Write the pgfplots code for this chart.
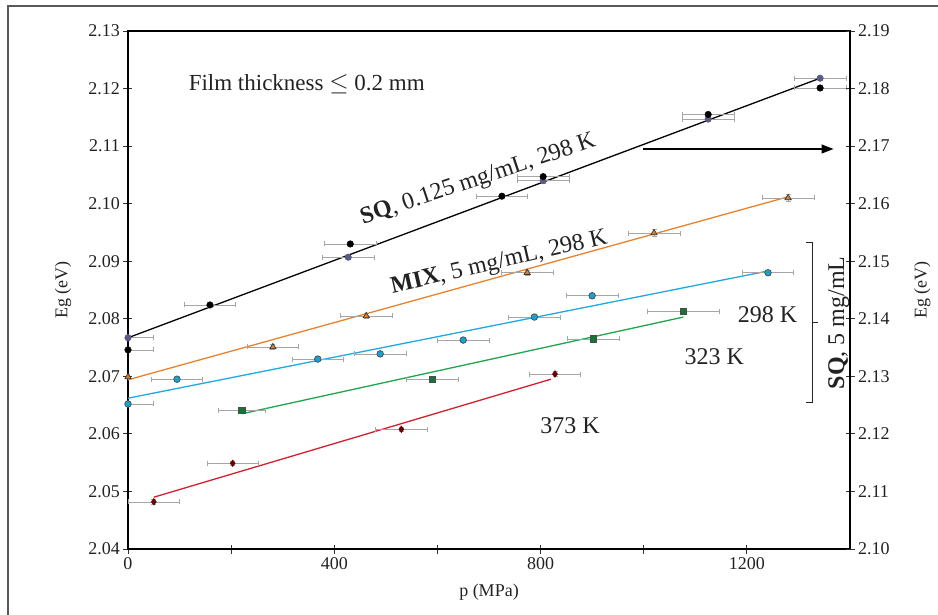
\documentclass[border=0pt]{standalone}
\usepackage{fontspec}
\setmainfont{Liberation Serif}
\usepackage{pgfplots}
\pgfplotsset{compat=1.18}
\usetikzlibrary{arrows.meta}
\definecolor{cOrange}{HTML}{E8822E}
\definecolor{cCyan}{HTML}{1FA9E1}
\definecolor{cGreen}{HTML}{1FA64A}
\definecolor{cRed}{HTML}{D2202E}
\definecolor{cPurple}{HTML}{5A5A85}
\definecolor{cTxt}{HTML}{222222}
\newcommand{\tfont}{\fontsize{18}{20}\selectfont}
\newcommand{\afont}{\fontsize{24}{26}\selectfont}

% x  y  exp  exm  ey
\pgfplotstableread{
x y exp exm ey
0 2.0746 50 0 0.0004
159 2.0824 50 50 0.0004
431 2.0930 50 50 0.0004
725 2.1013 50 50 0.0004
805 2.1047 50 50 0.0004
1125 2.1155 50 50 0.0004
1342 2.1201 50 50 0.0004
}\sqblack
\pgfplotstableread{
x y exp exm ey
0 2.0767 50 0 0.0004
427 2.0907 50 50 0.0004
805 2.1040 50 50 0.0004
1125 2.1147 50 50 0.0004
1342 2.1218 50 50 0.0004
}\sqpurple
\pgfplotstableread{
x y exp exm ey
0 2.0699 0 0 0.0004
281 2.0751 50 50 0.0004
462 2.0805 50 50 0.0004
774 2.0880 50 50 0.0004
1020 2.0949 50 50 0.0006
1280 2.1010 50 50 0.0006
}\mix
\pgfplotstableread{
x y exp exm ey
0 2.0652 50 0 0.0004
95 2.0695 50 50 0.0004
368 2.0730 50 50 0.0004
489 2.0739 50 50 0.0004
650 2.0763 50 50 0.0004
788 2.0803 50 50 0.0004
900 2.0840 50 50 0.0004
1241 2.0880 50 50 0.0004
}\sqA
\pgfplotstableread{
x y exp exm ey
221 2.0641 45 45 0.0004
590 2.0695 50 50 0.0004
902 2.0765 50 50 0.0004
1077 2.0813 70 70 0.0004
}\sqB
\pgfplotstableread{
x y exp exm ey
50 2.0482 50 50 0.0004
203 2.0549 50 50 0.0004
530 2.0608 50 50 0.0004
828 2.0704 50 50 0.0004
}\sqC

\begin{document}
\begin{tikzpicture}
\pgfplotsset{
  errs/.style={
    error bars/.cd, x dir=both, x explicit, y dir=both, y explicit,
    error bar style={gray!70, line width=0.6pt},
    error mark options={rotate=90, gray!70, mark size=2.5pt, line width=0.6pt},
  },
}
\begin{axis}[
  width=722pt, height=518pt, scale only axis,
  xmin=0, xmax=1400, ymin=2.04, ymax=2.13,
  xtick={0,400,800,1200}, minor xtick={200,600,1000},
  ytick={2.04,2.05,2.06,2.07,2.08,2.09,2.10,2.11,2.12,2.13},
  xtick pos=bottom, ytick pos=left,
  tick align=center, major tick length=9pt, minor tick length=9pt,
  axis line style={line width=1.1pt, black},
  tick style={line width=0.8pt, black!80},
  yticklabel style={/pgf/number format/.cd, fixed, fixed zerofill, precision=2},
  xticklabel style={/pgf/number format/.cd, fixed, 1000 sep={}},
  /pgf/number format/assume math mode=true,
  ticklabel style={font=\tfont, text=cTxt},
  label style={font=\tfont, text=cTxt},
  ylabel={Eg (eV)},
  ylabel style={at={(axis description cs:-0.09,0.5)}, anchor=center, rotate=0},
  xlabel={p (MPa)},
  xlabel style={at={(axis description cs:0.5,0)}, anchor=center, yshift=-43pt},
  clip mode=individual,
]
\coordinate (O) at (rel axis cs:0,0);
% fit lines
\addplot[black, line width=1.3pt] coordinates {(0,2.0767) (1342,2.1218)};
\addplot[cOrange, line width=1.3pt] coordinates {(0,2.0694) (1280,2.1012)};
\addplot[cCyan, line width=1.3pt] coordinates {(0,2.0662) (1241,2.0883)};
\addplot[cGreen, line width=1.3pt] coordinates {(221,2.0635) (1077,2.0803)};
\addplot[cRed, line width=1.3pt] coordinates {(50,2.0490) (820,2.0695)};
% data
\addplot[only marks, mark=*, mark size=3.3pt, mark options={fill=cPurple, draw=cPurple}, errs]
  table[x=x, y=y, x error plus=exp, x error minus=exm, y error=ey] {\sqpurple};
\addplot[only marks, mark=*, mark size=3.3pt, mark options={fill=black, draw=black}, errs]
  table[x=x, y=y, x error plus=exp, x error minus=exm, y error=ey] {\sqblack};
\addplot[only marks, mark=triangle*, mark size=3.6pt, mark options={fill=cOrange!60!brown, draw=black!80, line width=0.7pt}, errs]
  table[x=x, y=y, x error plus=exp, x error minus=exm, y error=ey] {\mix};
\addplot[only marks, mark=*, mark size=3.3pt, mark options={fill=cCyan!80!teal, draw=black!70, line width=0.7pt}, errs]
  table[x=x, y=y, x error plus=exp, x error minus=exm, y error=ey] {\sqA};
\addplot[only marks, mark=square*, mark size=3.2pt, mark options={fill=cGreen!70!black, draw=black!70, line width=0.7pt}, errs]
  table[x=x, y=y, x error plus=exp, x error minus=exm, y error=ey] {\sqB};
\addplot[only marks, mark=diamond*, mark size=3.4pt, mark options={fill=red!40!black, draw=red!40!black}, errs]
  table[x=x, y=y, x error plus=exp, x error minus=exm, y error=ey] {\sqC};
% annotations
\node[anchor=west, font=\fontsize{23}{25}\selectfont, text=cTxt] at (axis cs:111,2.1208) {Film thickness $\leq$ 0.2 mm};
\node[rotate=18.5, font=\afont, text=cTxt] at (axis cs:679,2.1041) {\textbf{SQ}, 0.125 mg/mL, 298 K};
\node[rotate=13, font=\afont, text=cTxt] at (axis cs:720,2.0897) {\textbf{MIX}, 5 mg/mL, 298 K};
\node[font=\afont, text=cTxt] at (axis cs:1240,2.0808) {298 K};
\node[font=\afont, text=cTxt] at (axis cs:1137,2.0734) {323 K};
\node[font=\afont, text=cTxt] at (axis cs:857,2.0615) {373 K};
\draw[-{Triangle[length=12pt,width=9pt]}, line width=1.4pt, black] (axis cs:999,2.1095) -- (axis cs:1368,2.1095);
\draw[line width=0.9pt, black!85] (axis cs:1315,2.0932) -- (axis cs:1327,2.0932) -- (axis cs:1327,2.0654) -- (axis cs:1315,2.0654);
\draw[line width=0.9pt, black!85] (axis cs:1327,2.0794) -- (axis cs:1338,2.0794);
\node[rotate=90, font=\afont, text=cTxt] at (axis cs:1378,2.0793) {\textbf{SQ}, 5 mg/mL};
\end{axis}
\begin{axis}[
  width=722pt, height=518pt, scale only axis,
  xmin=0, xmax=1400, ymin=2.10, ymax=2.19,
  axis x line=none, axis y line*=right,
  ytick={2.10,2.11,2.12,2.13,2.14,2.15,2.16,2.17,2.18,2.19},
  tick align=center, major tick length=9pt,
  axis line style={line width=1.1pt, black},
  tick style={line width=0.8pt, black!80},
  yticklabel style={/pgf/number format/.cd, fixed, fixed zerofill, precision=2},
  /pgf/number format/assume math mode=true,
  ticklabel style={font=\tfont, text=cTxt},
  label style={font=\tfont, text=cTxt},
  ylabel={Eg (eV)},
  ylabel style={at={(axis description cs:1.1,0.5)}, anchor=center, rotate=0},
]
\addplot[draw=none] coordinates {(0,2.10)};
\end{axis}
\draw[black!65, line width=1.2pt] ([shift={(-120pt,-80pt)}]O) -- ([shift={(-120pt,543pt)}]O) -- ([shift={(830pt,543pt)}]O);
\pgfresetboundingbox
\path[use as bounding box] ([shift={(-128pt,-65pt)}]O) rectangle ([shift={(810pt,549pt)}]O);
\end{tikzpicture}
\end{document}
